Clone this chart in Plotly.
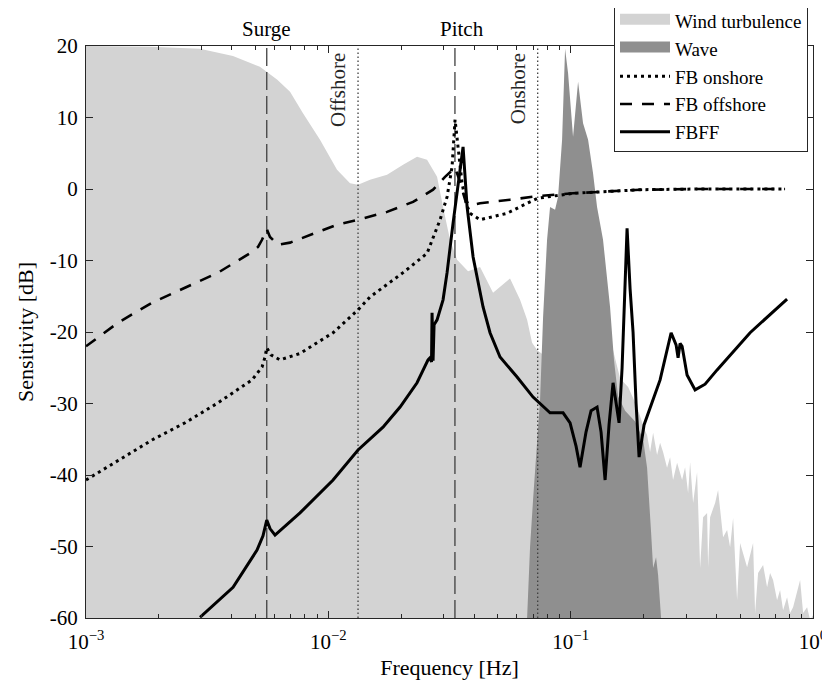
import math
import plotly.graph_objects as go

FONT = "Liberation Serif"
Y_MIN, Y_MAX = -60, 20

# ---------------- data ----------------
wind_f = [0.001, 0.00184, 0.00295, 0.00404, 0.00522, 0.00614, 0.00695, 0.00786, 0.00924, 0.01086,
          0.01229, 0.01326, 0.01486, 0.01747, 0.02034, 0.02323, 0.02555, 0.02810, 0.02974, 0.03178,
          0.03398, 0.03772, 0.04227, 0.04783, 0.05621, 0.06183, 0.06610, 0.06930, 0.07265, 0.0904,
          0.1322, 0.1482, 0.1600, 0.1726, 0.1880, 0.2008, 0.2067, 0.2127, 0.2189, 0.2273,
          0.2339, 0.2406, 0.2499, 0.2572, 0.2646, 0.2749, 0.2883, 0.2966, 0.3052, 0.3111,
          0.3201, 0.3324, 0.3421, 0.3519, 0.3656, 0.3691, 0.3762, 0.3945, 0.4058, 0.4136,
          0.4256, 0.4421, 0.4549, 0.4681, 0.4862, 0.5002, 0.5147, 0.5346, 0.5660, 0.5768,
          0.5935, 0.6224, 0.6465, 0.6651, 0.6843, 0.7108, 0.7314, 0.7526, 0.7817, 0.8043,
          0.8276, 0.8848, 0.9103, 0.9456, 0.9730, 1.0]
wind_db = [20, 19.9, 19.6, 18.6, 17.1, 15.3, 13.6, 10.6, 6.9, 2.7,
           0.8, 0.6, 1.3, 2.0, 3.4, 4.5, 4.1, 1.7, -2.5, -7.1,
           -9.9, -11.5, -10.9, -14.5, -12.5, -15.5, -18.3, -21.5, -22.5, -25,
           -22, -22, -26.5, -27.7, -30.5, -33.5, -34.4, -36.8, -34.1, -37.2,
           -35.5, -36.8, -39.0, -37.5, -40.7, -38.3, -40.7, -38.9, -42.5, -38.2,
           -43.9, -39.6, -53.0, -45.9, -45.3, -52.9, -45.9, -43.9, -42.1, -44.9,
           -48.7, -47.7, -50.1, -46.0, -57.5, -49.5, -50.9, -52.9, -49.5, -59.3,
           -53.7, -52.6, -55.7, -53.7, -54.7, -57.5, -56.1, -58.9, -57.1, -59.3,
           -58.5, -54.7, -59.3, -58.5, -60.3, -59.6]

wave_f = [0.06610, 0.06800, 0.06995, 0.07477, 0.07693, 0.07991, 0.08222, 0.08622, 0.08872, 0.09217,
          0.09483, 0.09757, 0.1023, 0.1073, 0.1125, 0.1180, 0.1237, 0.1285, 0.1360, 0.1454,
          0.1510, 0.1569, 0.1677, 0.1845, 0.1990, 0.2067, 0.2147, 0.2189, 0.2251, 0.2295, 0.2361]
wave_db = [-60, -50, -43.5, -29.5, -18, -7.1, -2.5, -2.9, -1.1, 6.9,
           19.6, 16.2, 7.3, 15.0, 9.2, 6.9, 2.2, -2.5, -7.1, -16.5,
           -24, -29, -31, -32.5, -35, -39, -48, -53, -51.5, -54, -60]

onshore_f = [0.001, 0.001593, 0.001873, 0.002563, 0.003506, 0.004843, 0.005326, 0.00548, 0.00557, 0.0058,
             0.00632, 0.00764, 0.01046, 0.01326, 0.01486, 0.02034, 0.02555, 0.02891, 0.0309, 0.0324,
             0.03334, 0.03429, 0.03563, 0.03702, 0.03843, 0.04227, 0.05464, 0.0661, 0.0731, 0.1023,
             0.1413, 0.1934, 0.3421, 0.7668]
onshore_db = [-40.7, -36.5, -35.1, -32.7, -29.9, -26.7, -24.9, -23.5, -22.2, -23.2,
              -23.9, -23.0, -20.1, -16.9, -15.1, -11.7, -9.0, -4.3, -1.1, 3.1,
              9.7, 5.9, 0.8, -2.0, -3.4, -4.3, -3.4, -2.0, -1.3, -0.6,
              -0.3, -0.1, 0.0, 0.0]

offshore_f = [0.001, 0.001356, 0.001873, 0.002563, 0.003506, 0.004843, 0.005128, 0.005326, 0.00548, 0.00557,
              0.005745, 0.0062, 0.00695, 0.007863, 0.01086, 0.01326, 0.01747, 0.02237, 0.02705, 0.03031,
              0.03178, 0.03334, 0.03495, 0.03666, 0.03843, 0.04227, 0.05621, 0.0731, 0.1023, 0.1413,
              0.1934, 0.3421, 0.7668]
offshore_db = [-22, -18.7, -15.9, -13.8, -11.7, -8.8, -8.1, -7.1, -6.0, -5.6,
               -6.7, -7.8, -7.5, -6.8, -5.0, -4.3, -3.2, -1.8, -0.1, 1.7,
               2.4, 3.0, 1.0, -1.5, -2.3, -2.0, -1.5, -1.0, -0.6, -0.3,
               -0.1, 0.0, 0.0]

fbff_f = [0.002955, 0.004044, 0.005078, 0.005376, 0.00557, 0.005745, 0.006026, 0.00764, 0.01046, 0.01326,
          0.01681, 0.01977, 0.02323, 0.02579, 0.02628, 0.02666, 0.02679, 0.02705, 0.02731, 0.0281,
          0.02974, 0.0309, 0.0327, 0.03429, 0.03529, 0.03597, 0.03738, 0.03957, 0.0435, 0.04648,
          0.05111, 0.0601, 0.06995, 0.08222, 0.09304, 0.09943, 0.1053, 0.1093, 0.1157, 0.1214,
          0.1285, 0.1335, 0.1387, 0.144, 0.1496, 0.1539, 0.1584, 0.163, 0.1677, 0.1709,
          0.1759, 0.1809, 0.1862, 0.1916, 0.2008, 0.2127, 0.2339, 0.2597, 0.2723, 0.2775,
          0.2828, 0.2883, 0.3022, 0.3262, 0.3587, 0.402, 0.55, 0.7817]
fbff_db = [-59.9, -55.7, -50.5, -48.5, -46.3, -47.5, -48.4, -45.3, -40.7, -36.5,
           -33.3, -30.5, -27.1, -23.9, -23.6, -24.2, -17.3, -24.0, -19.0, -18.3,
           -15.5, -11.7, -4.8, 0.5, 4.0, 5.9, -2.5, -9.5, -16.5, -20.1,
           -23.5, -26.3, -29.1, -31.3, -31.3, -32.7, -36.0, -38.9, -34.0, -31.0,
           -30.5, -34.0, -40.7, -33.0, -27.1, -30.0, -32.7, -25.0, -13.0, -5.5,
           -14.0, -20.0, -30.0, -37.5, -33.0, -30.5, -26.7, -20.1, -21.8, -23.6,
           -21.6, -22.0, -26.0, -28.1, -27.3, -25.3, -20.1, -15.4]

# natural frequencies / crossover markers
mode_names = ["Surge", "Pitch"]
mode_freqs = [0.00557, 0.0333]
mode_label_shift = [0, 7]
bw_names = ["Offshore", "Onshore"]
bw_freqs = [0.01326, 0.0731]

x_tickvals = [0.001, 0.01, 0.1, 1]
x_ticktext = ["10<sup>\u22123</sup>", "10<sup>\u22122</sup>", "10<sup>\u22121</sup>", "10<sup>0</sup>"]
y_tickvals = [-60, -50, -40, -30, -20, -10, 0, 10, 20]
y_ticktext = ["-60", "-50", "-40", "-30", "-20", "-10", "0", "10", "20"]

LIGHT = "#d3d3d3"
DARK = "#8f8f8f"

# ---------------- figure ----------------
fig = go.Figure()

# wind turbulence area
fig.add_trace(go.Scatter(x=wind_f, y=[Y_MIN] * len(wind_f), mode="lines",
                         line=dict(width=0), showlegend=False, hoverinfo="skip"))
fig.add_trace(go.Scatter(x=wind_f, y=wind_db, mode="lines", name="Wind turbulence", showlegend=False,
                         line=dict(width=0, color=LIGHT), fill="tonexty", fillcolor=LIGHT))
# wave area
fig.add_trace(go.Scatter(x=wave_f, y=[Y_MIN] * len(wave_f), mode="lines",
                         line=dict(width=0), showlegend=False, hoverinfo="skip"))
fig.add_trace(go.Scatter(x=wave_f, y=wave_db, mode="lines", name="Wave", showlegend=False,
                         line=dict(width=0, color=DARK), fill="tonexty", fillcolor=DARK))

# legend entries for the two areas (bigger swatches)
for nm, col in (("Wind turbulence", LIGHT), ("Wave", DARK)):
    fig.add_trace(go.Scatter(x=[None], y=[None], mode="lines", name=nm, fill="toself",
                             fillcolor=col, line=dict(width=10, color=col), hoverinfo="skip"))

# vertical marker lines
for f in mode_freqs:
    fig.add_trace(go.Scatter(x=[f, f], y=[Y_MIN, Y_MAX], mode="lines", showlegend=False,
                             hoverinfo="skip", line=dict(color="#404040", width=1.3, dash="18px,6px")))
for f in bw_freqs:
    fig.add_trace(go.Scatter(x=[f, f], y=[Y_MIN, Y_MAX], mode="lines", showlegend=False,
                             hoverinfo="skip", line=dict(color="#404040", width=1.3, dash="1.5px,2.5px")))

# sensitivity curves
fig.add_trace(go.Scatter(x=onshore_f, y=onshore_db, mode="lines", name="FB onshore",
                         line=dict(color="black", width=3, dash="3px,4px")))
fig.add_trace(go.Scatter(x=offshore_f, y=offshore_db, mode="lines", name="FB offshore",
                         line=dict(color="black", width=2.6, dash="12px,10px")))
fig.add_trace(go.Scatter(x=fbff_f, y=fbff_db, mode="lines", name="FBFF",
                         line=dict(color="black", width=3)))

annotations = []
for name, f, sh in zip(mode_names, mode_freqs, mode_label_shift):
    annotations.append(dict(x=math.log10(f), y=1, xref="x", yref="paper", text=name,
                            showarrow=False, xanchor="center", yanchor="bottom", yshift=3, xshift=sh,
                            font=dict(family=FONT, size=21, color="black")))
for name, f in zip(bw_names, bw_freqs):
    annotations.append(dict(x=math.log10(f), y=1, xref="x", yref="paper", text=name,
                            showarrow=False, textangle=-90, xanchor="right", yanchor="top",
                            xshift=-6, yshift=-5,
                            font=dict(family=FONT, size=21, color="#262626")))

minor_vals = [k * 10.0 ** e for e in (-3, -2, -1) for k in range(2, 10)]
AX = "#262626"
PAGE_OFF = 8  # html body margin
PLOT_W, PLOT_H = 727, 572

fig.update_layout(
    width=830, height=687,
    margin=dict(l=86 - PAGE_OFF, r=17 + PAGE_OFF, t=46 - PAGE_OFF, b=69 + PAGE_OFF, autoexpand=False),
    plot_bgcolor="white", paper_bgcolor="white",
    font=dict(family=FONT, size=20, color="black"),
    annotations=annotations,
    showlegend=True,
    legend=dict(xref="paper", yref="paper", x=(614 - 86) / PLOT_W, y=1 + 45 / PLOT_H,
                xanchor="left", yanchor="top", traceorder="normal",
                bgcolor="white", bordercolor=AX, borderwidth=1,
                font=dict(family=FONT, size=19, color="black"),
                itemwidth=50, tracegroupgap=0),
    xaxis=dict(type="log", range=[-3, 0], tickmode="array", tickvals=x_tickvals, ticktext=x_ticktext,
               ticks="inside", ticklen=7, tickcolor=AX, linecolor=AX, linewidth=1, mirror="allticks",
               showgrid=False, zeroline=False, automargin=False, tickfont=dict(family=FONT, size=21),
               ticklabelstandoff=5,
               minor=dict(tickmode="array", tickvals=minor_vals, ticks="inside", ticklen=4,
                          tickcolor=AX, showgrid=False),
               title=dict(text="Frequency [Hz]", font=dict(family=FONT, size=22), standoff=6)),
    yaxis=dict(range=[Y_MIN, Y_MAX], tickmode="array", tickvals=y_tickvals, ticktext=y_ticktext,
               ticks="inside", ticklen=7, tickcolor=AX, linecolor=AX, linewidth=1, mirror="allticks",
               showgrid=False, zeroline=False, automargin=False, tickfont=dict(family=FONT, size=21),
               ticklabelstandoff=3,
               title=dict(text="Sensitivity [dB]", font=dict(family=FONT, size=22), standoff=10)),
)

fig.write_html("out.html")
